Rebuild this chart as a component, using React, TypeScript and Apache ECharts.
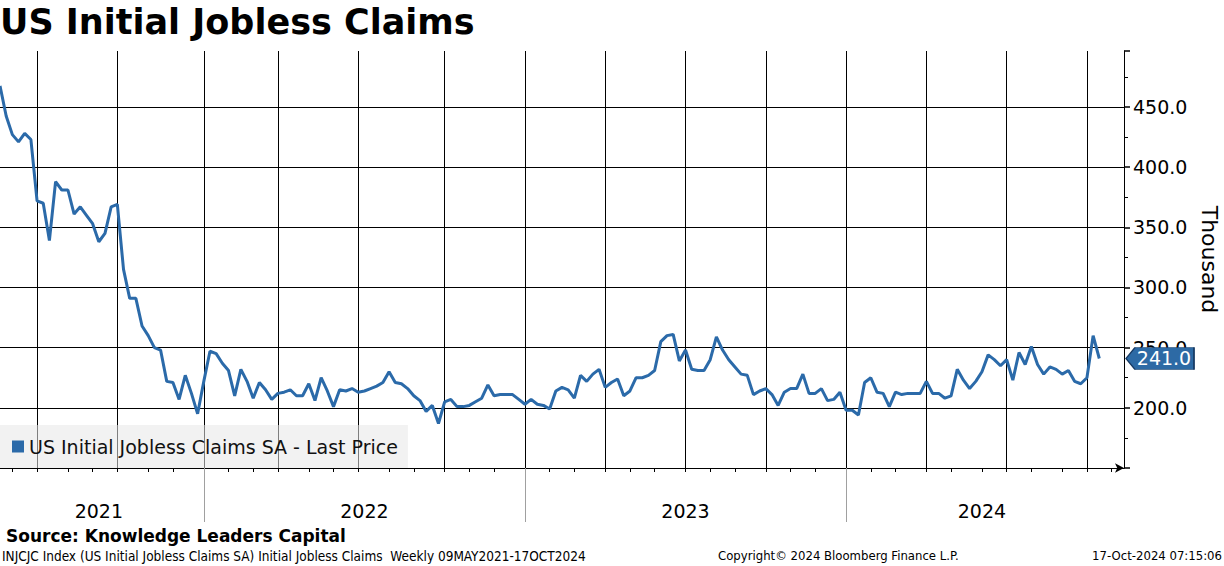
import React, { useEffect, useRef } from "react";
import * as echarts from "echarts";

// Weekly initial jobless claims (thousands), week ending 15 May 2021 .. 12 Oct 2024
const claims: number[] = [
  467.5, 442.5, 427, 421, 428, 423, 372, 370, 339, 388,
  381, 381, 361, 367, 360, 353, 338, 345, 367, 369,
  315, 291, 291, 268, 260, 250, 248, 222, 221, 207,
  227, 212, 195, 222, 247, 245, 237, 231, 210, 232,
  222, 208, 221, 215, 207, 212, 213, 215, 210, 210,
  220, 206, 225, 214, 201, 215, 214, 216, 213, 214,
  216, 218, 221, 230, 221, 220, 216, 210, 206, 197,
  202, 187, 205, 207, 201, 201, 202, 205, 208, 219,
  210, 211, 211, 211, 207, 203, 207, 203, 202, 199,
  214, 217, 215, 208, 227, 222, 228, 232, 217, 221,
  224, 210, 214, 225, 225, 227, 231, 255, 260, 261,
  239, 248, 232, 231, 231, 240, 259, 248, 240, 234,
  228, 227, 211, 214, 216, 211, 202, 213, 216, 216,
  228, 212, 212, 216, 206, 207, 213, 198, 198, 194,
  221, 225, 213, 212, 201, 213, 211, 212, 212, 212,
  222, 212, 212, 208, 210, 232, 223, 216, 222, 230,
  244, 240, 235, 240, 223, 246, 236, 251, 236, 228,
  234, 232, 228, 231, 222, 220, 225, 260, 241,
];

const firstWeek = "2021-05-15";
const axisWeeks = 183; // weekly slots shown on the time axis
const yTicks = [200, 250, 300, 350, 400, 450];
const seriesName = "US Initial Jobless Claims SA - Last Price";
const titleText = "US Initial Jobless Claims";
const sourceText = "Source: Knowledge Leaders Capital";
const footerLeft =
  "INJCJC Index (US Initial Jobless Claims SA) Initial Jobless Claims  Weekly 09MAY2021-17OCT2024";
const footerMid = "Copyright\u00A9 2024 Bloomberg Finance L.P.";
const footerRight = "17-Oct-2024 07:15:06";

const DAY = 86400000;
const startMs = Date.parse(firstWeek + "T00:00:00Z");
const weeks: string[] = Array.from({ length: axisWeeks }, (_, i) =>
  new Date(startMs + i * 7 * DAY).toISOString().slice(0, 10)
);

function weekHas(i: number, pred: (d: Date) => boolean): boolean {
  for (let k = 0; k < 7; k++) {
    const d = new Date(startMs + (i * 7 + k) * DAY);
    if (pred(d)) return true;
  }
  return false;
}
const isMonthWeek = (i: number) => weekHas(i, (d) => d.getUTCDate() === 1);
const isQuarterWeek = (i: number) =>
  weekHas(i, (d) => d.getUTCDate() === 1 && d.getUTCMonth() % 3 === 0);
const isYearWeek = (i: number) =>
  weekHas(i, (d) => d.getUTCDate() === 1 && d.getUTCMonth() === 0);

const yearBounds: number[] = [0];
for (let i = 1; i < axisWeeks; i++) if (isYearWeek(i)) yearBounds.push(i);
yearBounds.push(axisWeeks - 1);
const yearMids = new Set<number>();
for (let k = 0; k < yearBounds.length - 1; k++)
  yearMids.add(Math.floor((yearBounds[k] + yearBounds[k + 1]) / 2));

const FONT = "'DejaVu Sans', Verdana, sans-serif";
const NARROW = "'Liberation Sans Narrow', 'DejaVu Sans Condensed', 'Liberation Sans', sans-serif";
const LINE = "#2b6aa9";

export default function App() {
  const ref = useRef<HTMLDivElement>(null);
  useEffect(() => {
    if (!ref.current) return;
    const chart = echarts.init(ref.current, undefined, { renderer: "svg" });
    const last = claims[claims.length - 1];
    chart.setOption({
      animation: false,
      backgroundColor: "#ffffff",
      title: {
        text: titleText,
        left: 0,
        top: 4,
        padding: 0,
        textStyle: { fontFamily: FONT, fontSize: 35, fontWeight: "bold", color: "#000" },
      },
      legend: {
        data: [seriesName],
        left: 0,
        top: 425,
        padding: [12, 10, 12, 12],
        itemWidth: 12,
        itemHeight: 12,
        icon: "rect",
        selectedMode: false,
        backgroundColor: "rgba(232,232,232,0.55)",
        textStyle: { fontFamily: FONT, fontSize: 19, color: "#111" },
      },
      grid: {
        left: 0,
        right: 100,
        top: 51,
        bottom: 98,
        containLabel: false,
        outerBoundsMode: "none",
      },
      xAxis: [
        {
          type: "category",
          data: weeks,
          boundaryGap: false,
          axisLine: {
            show: true,
            lineStyle: { color: "#000", width: 1 },
            symbol: ["none", "arrow"],
            symbolSize: [7, 9],
          },
          axisTick: {
            show: true,
            interval: (i: number) => isMonthWeek(i),
            length: 4,
            lineStyle: { color: "#000" },
          },
          axisLabel: { show: false },
          splitLine: {
            show: true,
            interval: (i: number) => isQuarterWeek(i),
            lineStyle: { color: "#000", width: 1 },
          },
        },
        {
          type: "category",
          data: weeks,
          boundaryGap: false,
          position: "bottom",
          axisLine: { show: false },
          axisTick: {
            show: true,
            interval: (i: number) => isYearWeek(i),
            length: 54,
            lineStyle: { color: "#a0a0a0" },
          },
          axisLabel: {
            show: true,
            interval: (i: number) => yearMids.has(i),
            formatter: (v: string) => v.slice(0, 4),
            margin: 33,
            fontFamily: FONT,
            fontSize: 19,
            color: "#000",
          },
          splitLine: { show: false },
        },
      ],
      yAxis: {
        type: "value",
        position: "right",
        min: 150,
        max: 496.5,
        interval: 50,
        name: "Thousand",
        nameLocation: "middle",
        nameRotate: -90,
        nameGap: 74,
        nameTextStyle: { fontFamily: FONT, fontSize: 22, color: "#000" },
        axisLine: { show: true, lineStyle: { color: "#000", width: 1 } },
        axisTick: { show: true, length: 6, lineStyle: { color: "#000", width: 1.5 } },
        minorTick: { show: true, splitNumber: 2, length: 4, lineStyle: { color: "#000" } },
        axisLabel: {
          showMinLabel: false,
          showMaxLabel: false,
          margin: 9,
          fontFamily: FONT,
          fontSize: 19,
          color: "#000",
          formatter: (v: number) => (yTicks.includes(v) ? v.toFixed(1) : ""),
        },
        splitLine: {
          show: true,
          showMinLine: false,
          showMaxLine: false,
          lineStyle: { color: "#000", width: 1 },
        },
      },
      series: [
        {
          name: seriesName,
          type: "line",
          data: claims,
          showSymbol: false,
          clip: false,
          color: LINE,
          lineStyle: { color: LINE, width: 3 },
          markPoint: {
            silent: true,
            data: [
              {
                coord: [weeks[weeks.length - 1], last],
                symbol: "path://M0,11 L9,0 L68,0 L68,22 L9,22 Z",
                symbolSize: [68, 22],
                symbolOffset: [36, 0],
                itemStyle: { color: "#2d6aa5", borderColor: "#173a63", borderWidth: 1 },
                label: {
                  show: true,
                  position: "inside",
                  offset: [4, 0],
                  formatter: last.toFixed(1),
                  color: "#fff",
                  fontFamily: FONT,
                  fontSize: 19,
                },
              },
            ],
          },
        },
      ],
      graphic: [
        {
          type: "text",
          left: 6,
          top: 527,
          style: { text: sourceText, fontFamily: FONT, fontSize: 17, fontWeight: "bold", fill: "#000" },
        },
        {
          type: "text",
          left: 2,
          top: 549,
          style: { text: footerLeft, fontFamily: NARROW, fontSize: 13.5, fill: "#000" },
        },
        {
          type: "text",
          left: 718,
          top: 549,
          style: { text: footerMid, fontFamily: NARROW, fontSize: 13, fill: "#000" },
        },
        {
          type: "text",
          right: 2,
          top: 549,
          style: { text: footerRight, fontFamily: NARROW, fontSize: 13, fill: "#000" },
        },
      ],
    });
    return () => chart.dispose();
  }, []);
  return (
    <div
      ref={ref}
      style={{ position: "fixed", left: 0, top: 0, width: 1224, height: 566 }}
    />
  );
}
